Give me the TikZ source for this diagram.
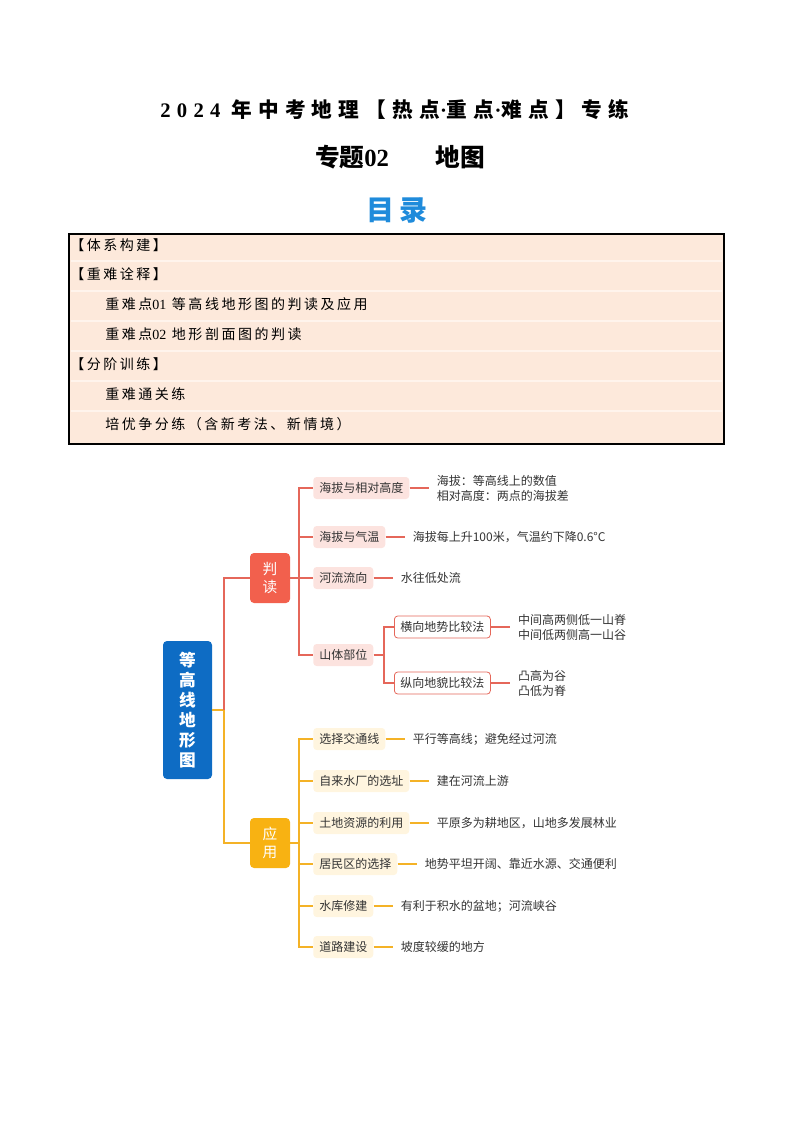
\documentclass[tikz,border=0pt]{standalone}
\usepackage{fontspec}
\setmainfont{Noto Sans CJK SC}
\newfontfamily\tnr{Liberation Serif}
\usetikzlibrary{positioning}

\definecolor{tocfill}{HTML}{FDE9DB}
\definecolor{tocline}{HTML}{FFF4EC}
\definecolor{mlblue}{HTML}{1F8BDB}
\definecolor{rootblue}{HTML}{0E6CC4}
\definecolor{judgered}{HTML}{F2604D}
\definecolor{redline}{HTML}{E5675A}
\definecolor{redkid}{HTML}{FCE3DF}
\definecolor{useorange}{HTML}{F8B212}
\definecolor{orangeline}{HTML}{F4B226}
\definecolor{orangekid}{HTML}{FFF5DF}
\definecolor{txt}{HTML}{333333}

\begin{document}
\begin{tikzpicture}[x=0.75pt, y=-0.75pt, font=\fontsize{9}{11}\selectfont,
  every node/.style={inner sep=0pt},
  node distance=14.25pt,
  rootbox/.style={fill=rootblue, rounded corners=3pt, minimum width=36.75pt, minimum height=103.5pt,
    text=white, align=center, font=\bfseries\fontsize{12.5}{15}\selectfont},
  judgebox/.style={fill=judgered, rounded corners=3pt, minimum width=30pt, minimum height=37.5pt,
    text=white, align=center, font=\fontsize{11}{13}\selectfont},
  usebox/.style={judgebox, fill=useorange},
  rkid/.style={anchor=west, fill=redkid, rounded corners=2.5pt, inner xsep=4.5pt, minimum height=16.5pt, text=txt},
  okid/.style={rkid, fill=orangekid},
  wkid/.style={rkid, fill=white, draw=redline, line width=0.6pt},
  leaf/.style={anchor=west, inner xsep=6pt, align=left, text=txt, font=\fontsize{9}{11.25}\selectfont},
  rline/.style={draw=redline, line width=1.1pt},
  oline/.style={draw=orangeline, line width=1.1pt},
  tocrow/.style={anchor=west, font=\fontsize{10.5}{12}\selectfont\addfontfeature{LetterSpace=18}}]
\useasboundingbox (0,0) rectangle (794,1123);

% titles
\node (t1) at (395,110) {\bfseries\fontsize{15.5}{18}\selectfont\addfontfeature{LetterSpace=30}{\tnr\bfseries\addfontfeature{LetterSpace=30}2024} 年中考地理【热点{\tnr\bfseries ·}重点{\tnr\bfseries ·}难点】专练};
\node (t2) at (400,157) {\bfseries\fontsize{18.5}{20}\selectfont 专题{\tnr\bfseries 02}\hspace{35pt}地图};
\node[text=mlblue] (ml) at (397,210) {\bfseries\fontsize{21}{24}\selectfont\addfontfeature{LetterSpace=15}目录};

% contents box
\draw[fill=tocfill, line width=0.9pt] (69,234) rectangle (724,444);
\foreach \y in {261,291,321,351,381,411}
  \draw[tocline, line width=0.8pt] (71,\y) -- (722,\y);
\node[tocrow] (r1) at (70,245) {【体系构建】};
\node[tocrow] (r2) at (70,274) {【重难诠释】};
\node[tocrow] (r3) at (105,304) {重难点{\tnr 01} 等高线地形图的判读及应用};
\node[tocrow] (r4) at (105,334) {重难点{\tnr 02} 地形剖面图的判读};
\node[tocrow] (r5) at (70,364) {【分阶训练】};
\node[tocrow] (r6) at (105,394) {重难通关练};
\node[tocrow] (r7) at (105,424) {培优争分练（含新考法、新情境）};

% mind map
\node[rootbox] (root) at (187.5,710) {等\\高\\线\\地\\形\\图};
\node[judgebox] (pd) at (270,578) {判\\读};
\node[usebox] (yy) at (270,843) {应\\用};

\node[rkid] (ha) at (313,488) {海拔与相对高度};
\node[rkid] (hq) at (313,537) {海拔与气温};
\node[rkid] (hl) at (313,578) {河流流向};
\node[rkid] (sb) at (313,655) {山体部位};
\node[wkid] (hx) at (394,627) {横向地势比较法};
\node[wkid] (zx) at (394,683) {纵向地貌比较法};

\node[leaf, right=of ha] (hal) {海拔：等高线上的数值\\相对高度：两点的海拔差};
\node[leaf, right=of hq] (hql) {海拔每上升100米，气温约下降0.6°C};
\node[leaf, right=of hl] (hll) {水往低处流};
\node[leaf, right=of hx] (hxl) {中间高两侧低一山脊\\中间低两侧高一山谷};
\node[leaf, right=of zx] (zxl) {凸高为谷\\凸低为脊};

\node[okid] (jt) at (313,739) {选择交通线};
\node[okid] (zl) at (313,781) {自来水厂的选址};
\node[okid] (td) at (313,823) {土地资源的利用};
\node[okid] (jm) at (313,864) {居民区的选择};
\node[okid] (sk) at (313,906) {水库修建};
\node[okid] (dl) at (313,947) {道路建设};

\node[leaf, right=of jt] (jtl) {平行等高线；避免经过河流};
\node[leaf, right=of zl] (zll) {建在河流上游};
\node[leaf, right=of td] (tdl) {平原多为耕地区，山地多发展林业};
\node[leaf, right=of jm] (jml) {地势平坦开阔、靠近水源、交通便利};
\node[leaf, right=of sk] (skl) {有利于积水的盆地；河流峡谷};
\node[leaf, right=of dl] (dll) {坡度较缓的地方};

% connectors
\coordinate (rj) at (224,710);
\coordinate (pj) at (299,578);
\coordinate (sj) at (384,655);
\coordinate (uj) at (299,843);
\draw[oline] (root.east) -- (rj) |- (yy.west);
\draw[rline] (rj) |- (pd.west);
\draw[rline] (pd.east) -- (pj);
\foreach \n in {ha,hq,hl,sb}
  \draw[rline] (pj) |- (\n.west);
\draw[rline] (sb.east) -- (sj);
\foreach \n in {hx,zx}
  \draw[rline] (sj) |- (\n.west);
\foreach \a/\b in {ha/hal,hq/hql,hl/hll,hx/hxl,zx/zxl}
  \draw[rline] (\a.east) -- (\b.west);
\draw[oline] (yy.east) -- (uj);
\foreach \n in {jt,zl,td,jm,sk,dl}
  \draw[oline] (uj) |- (\n.west);
\foreach \a/\b in {jt/jtl,zl/zll,td/tdl,jm/jml,sk/skl,dl/dll}
  \draw[oline] (\a.east) -- (\b.west);
\end{tikzpicture}
\end{document}
